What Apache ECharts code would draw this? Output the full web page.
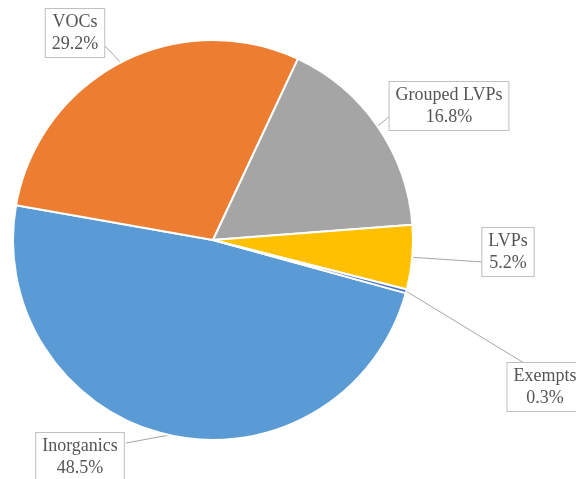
<!DOCTYPE html>
<html><head><meta charset="utf-8">
<script src="https://cdn.jsdelivr.net/npm/echarts@6/dist/echarts.min.js"></script>
<style>html,body{margin:0;padding:0;background:#fff}#c{width:576px;height:479px}</style>
</head><body><div id="c"></div>
<script>
const categories = ['Inorganics', 'VOCs', 'Grouped LVPs', 'LVPs', 'Exempts'];
const values = [48.5, 29.2, 16.8, 5.2, 0.3];
const colors = ['#5B9BD5', '#ED7D31', '#A5A5A5', '#FFC000', '#4472C4'];
const labelCenters = [[80, 457], [75, 33], [449, 106], [508, 252], [545, 387]];
const labelAttach = [[126, 443], [104, 45], [390, 116], [483, 262], [524, 363]];

const chart = echarts.init(document.getElementById('c'), null, {renderer: 'canvas'});
chart.setOption({
  animation: false,
  backgroundColor: '#ffffff',
  series: [{
    type: 'pie',
    center: [213, 240],
    radius: [0, 200],
    startAngle: -15.4,
    clockwise: true,
    data: categories.map((n, i) => ({name: n, value: values[i], itemStyle: {color: colors[i]}})),
    itemStyle: {borderColor: '#ffffff', borderWidth: 2},
    label: {
      show: true,
      formatter: p => p.name + '\n' + p.value.toFixed(1) + '%',
      fontFamily: 'Liberation Serif',
      fontSize: 18,
      lineHeight: 22,
      color: '#555555',
      align: 'center',
      backgroundColor: '#ffffff',
      borderColor: '#bfbfbf',
      borderWidth: 1,
      padding: [2, 6, 2, 6]
    },
    labelLine: {show: true, length: 20, length2: 10, lineStyle: {color: '#a6a6a6', width: 1}},
    labelLayout: function (params) {
      const c = labelCenters[params.dataIndex];
      const a = labelAttach[params.dataIndex];
      const p0 = params.labelLinePoints ? params.labelLinePoints[0] : a;
      return {x: c[0], y: c[1], align: 'center', verticalAlign: 'middle',
              labelLinePoints: [p0, a, a]};
    }
  }]
});
</script></body></html>
